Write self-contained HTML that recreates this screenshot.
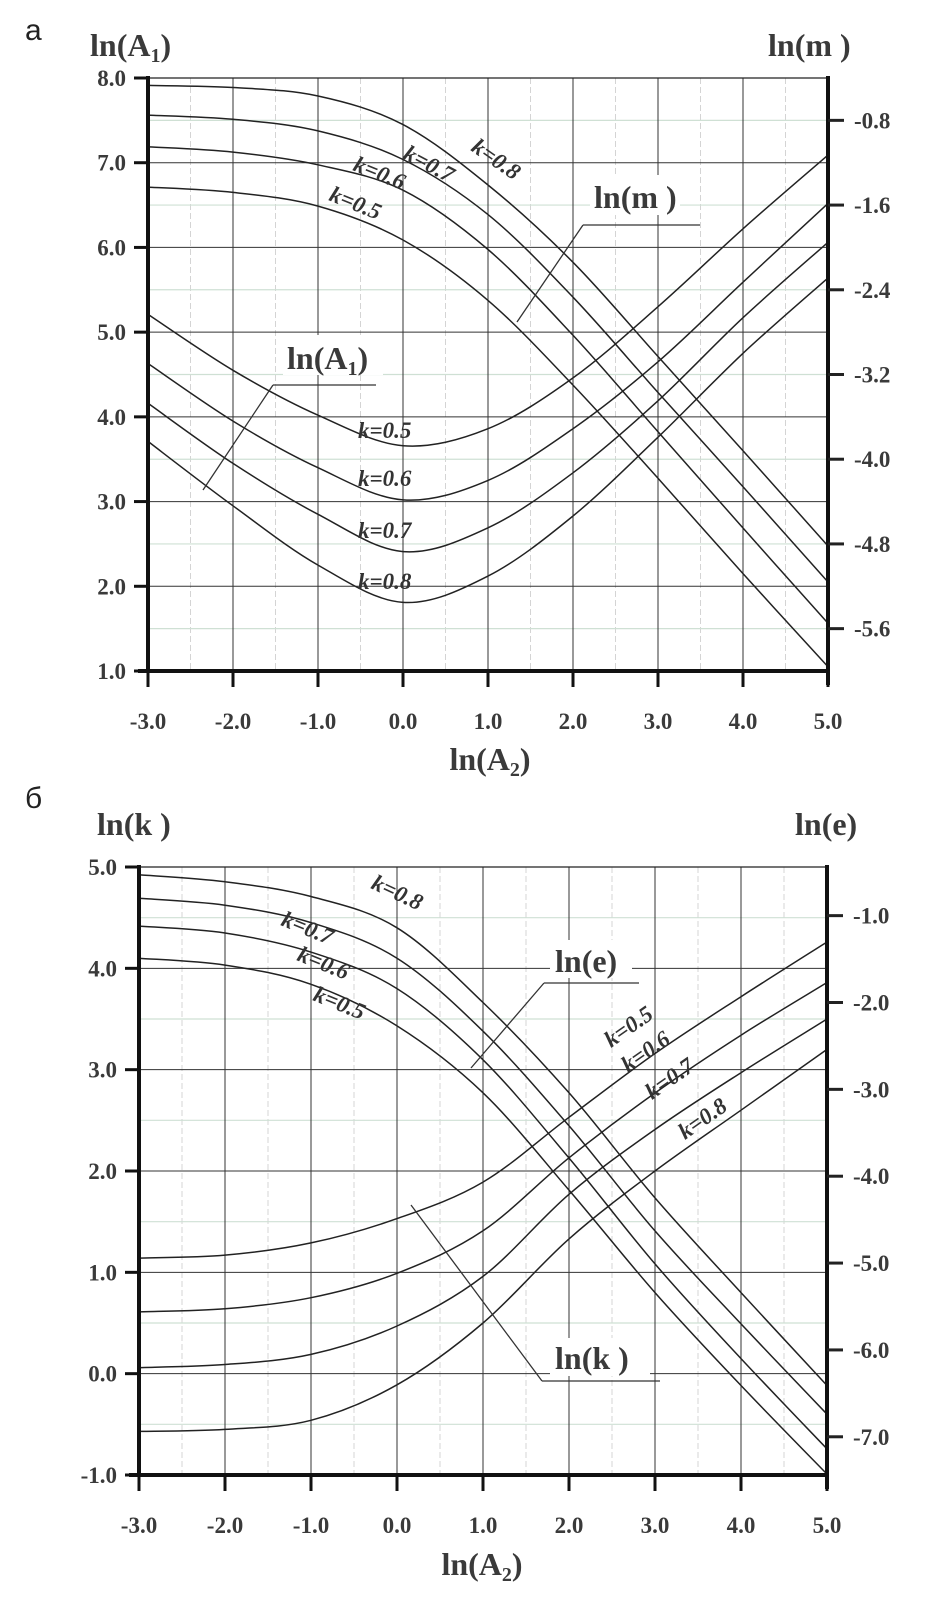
<!DOCTYPE html>
<html><head><meta charset="utf-8"><style>
html,body{margin:0;padding:0;background:#fff}
svg{display:block}
.t{font-family:"Liberation Serif",serif;font-weight:bold;fill:#3a3a3a}
.k{font-family:"Liberation Serif",serif;font-style:italic;font-weight:bold;fill:#333;font-size:23px}
</style></head><body>
<svg id="svg" width="927" height="1605" viewBox="0 0 927 1605" xmlns="http://www.w3.org/2000/svg">
<rect width="927" height="1605" fill="#fff"/>
<g id="chartA"></g>
<g id="chartB"></g>
</svg>
<script>
// ---------- Chart A data ----------
const xA = [-3,-2,-1,0,1,2,3,4,5];
const kVals = ['0.5','0.6','0.7','0.8'];
// ln(A1), left axis (U-shaped curves)
const a1_k05 = [5.21,4.55,4.02,3.66,3.86,4.46,5.30,6.22,7.09];
const a1_k06 = [4.63,3.95,3.40,3.02,3.25,3.86,4.65,5.59,6.52];
const a1_k07 = [4.16,3.45,2.85,2.41,2.69,3.34,4.19,5.17,6.06];
const a1_k08 = [3.71,2.95,2.25,1.81,2.12,2.83,3.76,4.75,5.64];
// ln(m), right axis (descending curves)
const m_k05 = [-1.43,-1.48,-1.61,-1.93,-2.50,-3.30,-4.18,-5.08,-5.96];
const m_k06 = [-1.05,-1.10,-1.22,-1.46,-2.02,-2.83,-3.74,-4.65,-5.55];
const m_k07 = [-0.75,-0.79,-0.90,-1.17,-1.69,-2.47,-3.37,-4.26,-5.16];
const m_k08 = [-0.47,-0.49,-0.57,-0.84,-1.41,-2.14,-3.03,-3.92,-4.82];
const xTicksA = ['-3.0','-2.0','-1.0','0.0','1.0','2.0','3.0','4.0','5.0'];
const yTicksA = ['1.0','2.0','3.0','4.0','5.0','6.0','7.0','8.0'];
const rTicksA = ['-0.8','-1.6','-2.4','-3.2','-4.0','-4.8','-5.6'];

// ---------- Chart B data ----------
const xB = [-3,-2,-1,0,1,2,3,4,5];
// ln(k), left axis (rising curves)
const k_k05 = [1.14,1.17,1.29,1.53,1.89,2.53,3.16,3.72,4.26];
const k_k06 = [0.61,0.64,0.75,0.99,1.41,2.13,2.77,3.34,3.86];
const k_k07 = [0.06,0.09,0.19,0.47,0.96,1.77,2.41,2.97,3.50];
const k_k08 = [-0.57,-0.55,-0.46,-0.11,0.50,1.33,2.00,2.60,3.20];
// ln(e), right axis (descending curves)
const e_k05 = [-1.49,-1.57,-1.79,-2.27,-3.04,-4.16,-5.34,-6.41,-7.43];
const e_k06 = [-1.12,-1.20,-1.42,-1.84,-2.66,-3.79,-5.01,-6.10,-7.14];
const e_k07 = [-0.80,-0.88,-1.08,-1.49,-2.33,-3.42,-4.63,-5.70,-6.74];
const e_k08 = [-0.53,-0.61,-0.78,-1.14,-2.00,-3.04,-4.25,-5.34,-6.41];
const xTicksB = ['-3.0','-2.0','-1.0','0.0','1.0','2.0','3.0','4.0','5.0'];
const yTicksB = ['-1.0','0.0','1.0','2.0','3.0','4.0','5.0'];
const rTicksB = ['-1.0','-2.0','-3.0','-4.0','-5.0','-6.0','-7.0'];

const NS = 'http://www.w3.org/2000/svg';
function el(tag, attrs, parent){
  const e = document.createElementNS(NS, tag);
  for (const k in attrs) e.setAttribute(k, attrs[k]);
  parent.appendChild(e);
  return e;
}
function text(str, x, y, cls, size, parent, anchor, rot){
  const t = el('text', {x:x, y:y, 'class':cls, 'font-size':size, 'text-anchor':anchor||'middle'}, parent);
  if (rot) t.setAttribute('transform', 'rotate(' + rot + ' ' + x + ' ' + y + ')');
  t.textContent = str;
  return t;
}
function smooth(pts){
  let d = 'M' + pts[0][0].toFixed(1) + ',' + pts[0][1].toFixed(1);
  for (let i = 0; i < pts.length - 1; i++){
    const p0 = pts[i-1] || pts[i], p1 = pts[i], p2 = pts[i+1], p3 = pts[i+2] || p2;
    const c1 = [p1[0] + (p2[0]-p0[0])/6, p1[1] + (p2[1]-p0[1])/6];
    const c2 = [p2[0] - (p3[0]-p1[0])/6, p2[1] - (p3[1]-p1[1])/6];
    d += 'C' + c1[0].toFixed(1) + ',' + c1[1].toFixed(1) + ' ' + c2[0].toFixed(1) + ',' + c2[1].toFixed(1) + ' ' + p2[0].toFixed(1) + ',' + p2[1].toFixed(1);
  }
  return d;
}

function drawChart(g, cfg){
  const {x0,x1,yTop,yBot,xMin,xMax,lMin,lMax,rMin,rMax} = cfg;
  const sx = v => x0 + (v - xMin) / (xMax - xMin) * (x1 - x0);
  const sl = v => yBot - (v - lMin) / (lMax - lMin) * (yBot - yTop);
  const sr = v => yBot - (v - rMin) / (rMax - rMin) * (yBot - yTop);
  for (let v = xMin + 0.5; v < xMax; v += 1){
    const l = el('line', {x1:sx(v), x2:sx(v), y1:yTop, y2:yBot, stroke:'#d4d4d4', 'stroke-width':1, 'stroke-dasharray':'6 3'}, g);
    
    
  }
  for (let v = lMin + 0.5; v < lMax; v += 1){
    const l = el('line', {x1:x0, x2:x1, y1:sl(v), y2:sl(v), stroke:'#cfe0d4', 'stroke-width':1.2}, g);
    
    
  }
  for (let v = xMin + 1; v < xMax; v += 1){
    const l = el('line', {x1:sx(v), x2:sx(v), y1:yTop, y2:yBot, stroke:'#333', 'stroke-width':1}, g);
    
    
  }
  for (let v = lMin + 1; v < lMax; v += 1){
    const l = el('line', {x1:x0, x2:x1, y1:sl(v), y2:sl(v), stroke:'#333', 'stroke-width':1}, g);
    
    
  }
  const tb = el('line', {x1:x0, x2:x1, y1:yTop, y2:yTop, stroke:'#222', 'stroke-width':1.2}, g);
  
  
  cfg.leftSeries.forEach((arr, i) => {
    const p = el('path', {d:smooth(arr.map((v,j)=>[sx(cfg.xs[j]), sl(v)])), fill:'none', stroke:'#222', 'stroke-width':1.5}, g);
    
    
  });
  cfg.rightSeries.forEach((arr, i) => {
    const p = el('path', {d:smooth(arr.map((v,j)=>[sx(cfg.xs[j]), sr(v)])), fill:'none', stroke:'#222', 'stroke-width':1.5}, g);
    
    
  });
  const la = el('line', {x1:x0, x2:x0, y1:yTop-2, y2:yBot+2, stroke:'#111', 'stroke-width':4}, g);
  
  
  const ra = el('line', {x1:x1, x2:x1, y1:yTop-2, y2:yBot+14, stroke:'#111', 'stroke-width':4}, g);
  
  
  const ba = el('line', {x1:x0-10, x2:x1+2, y1:yBot, y2:yBot, stroke:'#111', 'stroke-width':4}, g);
  
  
  cfg.xTicks.forEach(s => {
    const v = parseFloat(s);
    const tk = el('line', {x1:sx(v), x2:sx(v), y1:yBot, y2:yBot+16, stroke:'#111', 'stroke-width':3}, g);
    
    
    const t = text(s, sx(v), yBot + 58, 't', 23, g);
    
    
  });
  cfg.yTicks.forEach(s => {
    const v = parseFloat(s);
    const tk = el('line', {x1:x0-14, x2:x0, y1:sl(v), y2:sl(v), stroke:'#111', 'stroke-width':3}, g);
    
    
    const t = text(s, x0 - 22, sl(v) + 8, 't', 23, g, 'end');
    
    
  });
  cfg.rTicks.forEach(s => {
    const v = parseFloat(s);
    const tk = el('line', {x1:x1, x2:x1+16, y1:sr(v), y2:sr(v), stroke:'#222', 'stroke-width':3}, g);
    
    
    const t = text(s, x1 + 26, sr(v) + 8, 't', 23, g, 'start');
    
    
  });
}

const gA = document.getElementById('chartA');
drawChart(gA, {x0:148,x1:828,yTop:78,yBot:671,xMin:-3,xMax:5,lMin:1,lMax:8,rMin:-6.0,rMax:-0.4,
  xs:xA, leftSeries:[a1_k05,a1_k06,a1_k07,a1_k08], rightSeries:[m_k05,m_k06,m_k07,m_k08],
  leftName:'ln-a1', rightName:'ln-m', xTicks:xTicksA, yTicks:yTicksA, rTicks:rTicksA});
const gB = document.getElementById('chartB');
drawChart(gB, {x0:139,x1:827,yTop:867,yBot:1475,xMin:-3,xMax:5,lMin:-1,lMax:5,rMin:-7.44,rMax:-0.44,
  xs:xB, leftSeries:[k_k05,k_k06,k_k07,k_k08], rightSeries:[e_k05,e_k06,e_k07,e_k08],
  leftName:'ln-k', rightName:'ln-e', xTicks:xTicksB, yTicks:yTicksB, rTicks:rTicksB});
</script>
<div style="position:absolute;left:0;top:0;width:927px;height:1605px;pointer-events:none">
<svg width="927" height="1605" xmlns="http://www.w3.org/2000/svg">
<g font-family="Liberation Serif, serif">
<text x="25" y="40" font-size="30" fill="#222" font-family="Liberation Sans, DejaVu Sans, sans-serif">а</text>
<text x="90" y="56" class="t" font-size="32">ln(A<tspan font-size="20" dy="6">1</tspan><tspan dy="-6">)</tspan></text>
<text x="768" y="56" class="t" font-size="32">ln(m )</text>
<text x="490" y="770" text-anchor="middle" class="t" font-size="32">ln(A<tspan font-size="20" dy="6">2</tspan><tspan dy="-6">)</tspan></text>
<rect x="590" y="175" width="90" height="40" fill="#fff"/>
<text x="594" y="208" class="t" font-size="32">ln(m )</text>
<line x1="583" y1="225" x2="700" y2="225" stroke="#333" stroke-width="1.3"/>
<line x1="583" y1="225" x2="517" y2="322" stroke="#333" stroke-width="1.3"/>
<rect x="283" y="335" width="100" height="40" fill="#fff"/>
<text x="287" y="369" class="t" font-size="32">ln(A<tspan font-size="20" dy="6">1</tspan><tspan dy="-6">)</tspan></text>
<line x1="273" y1="385" x2="376" y2="385" stroke="#333" stroke-width="1.3"/>
<line x1="273" y1="385" x2="203" y2="490" stroke="#333" stroke-width="1.3"/>
<text x="470" y="150" class="k" transform="rotate(35 470 150)">k=0.8</text>
<text x="402" y="158" class="k" transform="rotate(28 402 158)">k=0.7</text>
<text x="352" y="170" class="k" transform="rotate(22 352 170)">k=0.6</text>
<text x="328" y="200" class="k" transform="rotate(22 328 200)">k=0.5</text>
<text x="358" y="438" class="k">k=0.5</text>
<text x="358" y="486" class="k">k=0.6</text>
<text x="358" y="538" class="k">k=0.7</text>
<text x="358" y="589" class="k">k=0.8</text>
<text x="25" y="808" font-size="30" fill="#222" font-family="Liberation Sans, DejaVu Sans, sans-serif">б</text>
<text x="97" y="835" class="t" font-size="32">ln(k  )</text>
<text x="795" y="835" class="t" font-size="32">ln(e)</text>
<text x="482" y="1575" text-anchor="middle" class="t" font-size="32">ln(A<tspan font-size="20" dy="6">2</tspan><tspan dy="-6">)</tspan></text>
<rect x="550" y="940" width="82" height="38" fill="#fff"/>
<text x="555" y="972" class="t" font-size="32">ln(e)</text>
<line x1="544" y1="983" x2="639" y2="983" stroke="#333" stroke-width="1.3"/>
<line x1="544" y1="983" x2="471" y2="1068" stroke="#333" stroke-width="1.3"/>
<rect x="550" y="1338" width="100" height="38" fill="#fff"/>
<text x="555" y="1369" class="t" font-size="32">ln(k  )</text>
<line x1="542" y1="1381" x2="660" y2="1381" stroke="#333" stroke-width="1.3"/>
<line x1="542" y1="1381" x2="411" y2="1205" stroke="#333" stroke-width="1.3"/>
<text x="370" y="888" class="k" transform="rotate(25 370 888)">k=0.8</text>
<text x="280" y="925" class="k" transform="rotate(22 280 925)">k=0.7</text>
<text x="296" y="960" class="k" transform="rotate(22 296 960)">k=0.6</text>
<text x="312" y="1000" class="k" transform="rotate(22 312 1000)">k=0.5</text>
<text x="611" y="1048" class="k" transform="rotate(-35 611 1048)">k=0.5</text>
<text x="628" y="1073" class="k" transform="rotate(-35 628 1073)">k=0.6</text>
<text x="652" y="1100" class="k" transform="rotate(-35 652 1100)">k=0.7</text>
<text x="685" y="1140" class="k" transform="rotate(-35 685 1140)">k=0.8</text>
</g>
</svg>
</div>
</body></html>
